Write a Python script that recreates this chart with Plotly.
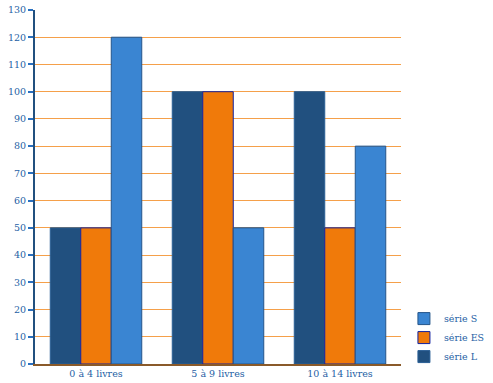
import plotly.graph_objects as go

categories = ["0 à 4 livres", "5 à 9 livres", "10 à 14 livres"]
serie_L = [50, 100, 100]
serie_ES = [50, 100, 50]
serie_S = [120, 50, 80]
y_ticks = list(range(0, 140, 10))

text_color = "#1f5fa5"
font = dict(family="DejaVu Serif, serif", size=9.5, color=text_color)

fig = go.Figure()
fig.add_trace(go.Bar(name="série L", x=categories, y=serie_L,
                     marker=dict(color="#21507f", line=dict(color="#2a5f95", width=1))))
fig.add_trace(go.Bar(name="série ES", x=categories, y=serie_ES,
                     marker=dict(color="#f07a0a", line=dict(color="#1020a0", width=1))))
fig.add_trace(go.Bar(name="série S", x=categories, y=serie_S,
                     marker=dict(color="#3a85d2", line=dict(color="#24558a", width=1))))

fig.update_layout(
    barmode="group", bargap=0.25, bargroupgap=0,
    width=493, height=383,
    margin=dict(l=35, r=92, t=10, b=19, autoexpand=False),
    paper_bgcolor="white", plot_bgcolor="white",
    font=font,
    showlegend=True,
    legend=dict(x=1.008, y=-0.02, xanchor="left", yanchor="bottom",
                traceorder="reversed", font=font, bgcolor="rgba(0,0,0,0)",
                itemwidth=30, tracegroupgap=0),
)
fig.update_yaxes(range=[0, 130], tickvals=y_ticks, showgrid=True, gridcolor="#f5a04a", gridwidth=1,
                 showline=True, linecolor="#21507f", linewidth=2, ticks="outside", ticklen=5,
                 tickcolor="#2a70c0", tickwidth=2, zeroline=False, tickfont=font, automargin=False)
fig.update_xaxes(showline=True, linecolor="#8a5a2a", linewidth=2, ticks="", tickfont=font,
                 automargin=False)

# remove the default 8px body margin so the figure sits at the page's top-left corner
fig.write_html("out.html", config={"displayModeBar": False},
               post_script="document.body.style.margin='0';")
